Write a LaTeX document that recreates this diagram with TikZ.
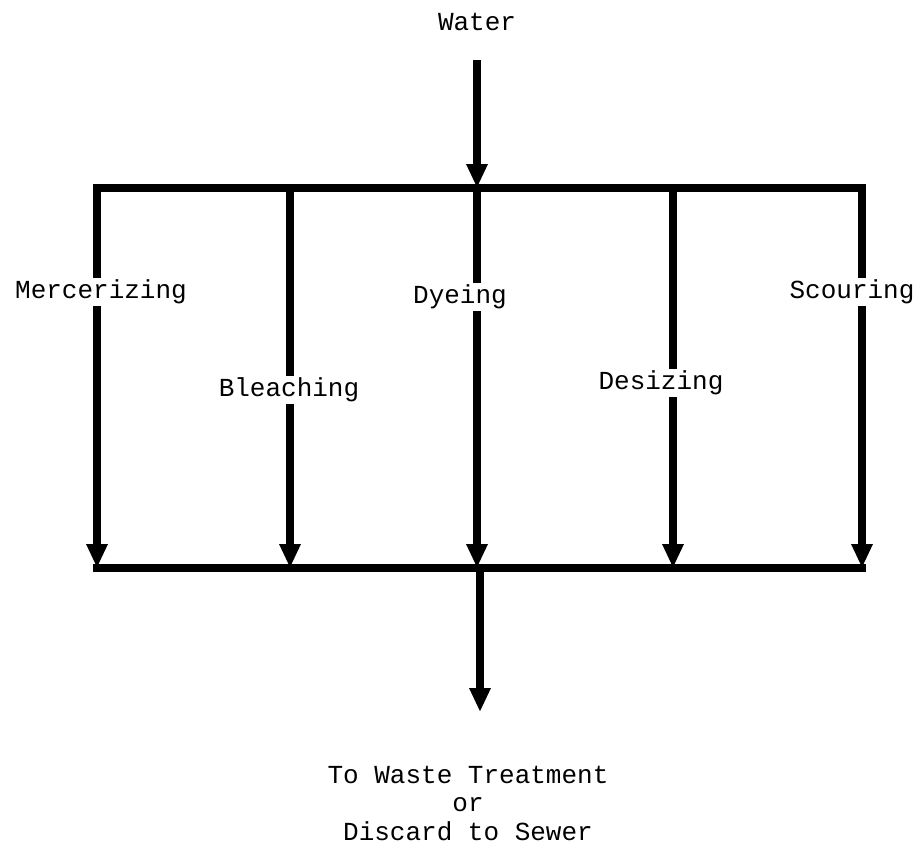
\documentclass[tikz,border=0pt]{standalone}
\usepackage{fontspec}
\setmonofont{Liberation Mono}
\usetikzlibrary{arrows.meta}
\begin{document}
\begin{tikzpicture}[x=1pt,y=-1pt,
  lbl/.style={font=\ttfamily\fontsize{26}{28.5}\selectfont,inner sep=2pt,align=center},
  pipe/.style={line width=7.5pt,line cap=butt},
  flow/.style={pipe,-{Triangle[width=20pt,length=24pt]}}]
\useasboundingbox (0,0) rectangle (920,857);
% junctions
\coordinate (tin) at (477,60);
\coordinate (t1) at (97,188);  \coordinate (t2) at (290,188); \coordinate (t3) at (477,188);
\coordinate (t4) at (673,188); \coordinate (t5) at (862,188);
\coordinate (b1) at (97,568);  \coordinate (b2) at (290,568); \coordinate (b3) at (477,568);
\coordinate (b4) at (673,568); \coordinate (b5) at (862,568);
\coordinate (out) at (480,712);
% labels
\node[lbl] (water) at (477,22) {Water};
\node[lbl] (merc) at (101,292) {Mercerizing};
\node[lbl] (blea) at (289,390) {Bleaching};
\node[lbl] (dye) at (460,297) {Dyeing};
\node[lbl] (desi) at (661,383) {Desizing};
\node[lbl] (scou) at (852,292) {Scouring};
\node[lbl] (dest) at (468,803) {To Waste Treatment\\or\\Discard to Sewer};
% headers
\draw[pipe] ([xshift=-4pt]t1) -- ([xshift=4pt]t5);
\draw[pipe] ([xshift=-4pt]b1) -- ([xshift=4pt]b5);
\draw[flow] (tin) -- (t3);
% branches
\draw[pipe] ([yshift=-3pt]t1) -- (t1 |- merc.north);
\draw[flow] (b1 |- merc.south) -- (b1);
\draw[pipe] ([yshift=-3pt]t2) -- (t2 |- blea.north);
\draw[flow] (b2 |- blea.south) -- (b2);
\draw[pipe] ([yshift=-3pt]t3) -- (t3 |- dye.north);
\draw[flow] (b3 |- dye.south) -- (b3);
\draw[pipe] ([yshift=-3pt]t4) -- (t4 |- desi.north);
\draw[flow] (b4 |- desi.south) -- (b4);
\draw[pipe] ([yshift=-3pt]t5) -- (t5 |- scou.north);
\draw[flow] (b5 |- scou.south) -- (b5);
\draw[flow] ([xshift=3pt,yshift=3pt]b3) -- (out);
\end{tikzpicture}
\end{document}
